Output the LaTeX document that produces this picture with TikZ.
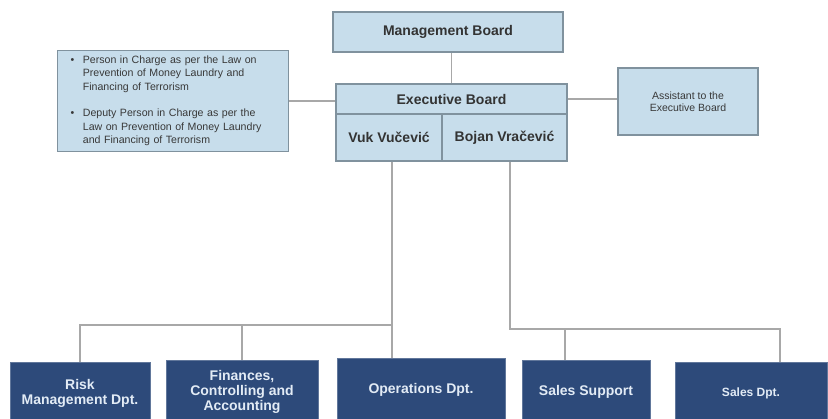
\documentclass[tikz,border=0pt]{standalone}
\usepackage{fontspec}
\setmainfont{Liberation Sans}

\definecolor{boardfill}{RGB}{199,221,235}
\definecolor{boardline}{RGB}{128,146,158}
\definecolor{deptfill}{RGB}{45,74,122}
\definecolor{depttext}{RGB}{226,235,245}
\definecolor{linkgray}{RGB}{168,168,168}

\begin{document}
\begin{tikzpicture}[x=1pt, y=-1pt,
    board/.style={draw=boardline, line width=1.3pt, fill=boardfill, text=black!80,
      font=\fontsize{14}{16}\selectfont\bfseries},
    dept/.style={draw=deptfill!75!white, line width=1pt, fill=deptfill, text=depttext,
      anchor=north, minimum height=62pt, align=center,
      font=\fontsize{14}{15}\selectfont\bfseries},
    link/.style={draw=linkgray, line width=1.2pt}]
    \useasboundingbox (0,0) rectangle (828,419);

    % boards
    \node[board, minimum width=230pt, minimum height=40pt] (mgmt) at (448,32) {Management Board};
    \node[board, minimum width=231pt, minimum height=30pt] (exec) at (451.5,99) {Executive Board};
    \node[board, minimum width=106pt, minimum height=47pt] (vuk) at (389,137.5) {Vuk Vučević};
    \node[board, minimum width=125pt, minimum height=47pt] (bojan) at (504.5,137.5) {Bojan Vračević};

    \node[board, anchor=north west, inner xsep=13pt, text width=205pt, minimum height=100pt,
      align=left, font=\fontsize{10.6}{13.5}\selectfont, text=black!78] (aml) at (57,50)
      {\begin{tabular}{@{}l@{\hspace{8.5pt}}l@{}}
        \textbullet & Person in Charge as per the Law on\\
          & Prevention of Money Laundry and\\
          & Financing of Terrorism\\[13pt]
        \textbullet & Deputy Person in Charge as per the\\
          & Law on Prevention of Money Laundry\\
          & and Financing of Terrorism
      \end{tabular}};
    \node[board, minimum width=140pt, minimum height=67pt, align=center,
      font=\fontsize{10.5}{12}\selectfont, text=black!78] (asst) at (688,101.5)
      {Assistant to the\\Executive Board};

    % departments
    \node[dept, minimum width=140pt] (risk) at (80,362) {Risk\\Management Dpt.};
    \node[dept, minimum width=152pt] (fin) at (242,360) {Finances,\\Controlling and\\Accounting};
    \node[dept, minimum width=168pt] (ops) at (421,358) {Operations Dpt.};
    \node[dept, minimum width=128pt] (ssup) at (586,360) {Sales Support};
    \node[dept, minimum width=152pt, font=\fontsize{12}{14}\selectfont\bfseries] (sales) at (751,362) {Sales Dpt.};

    \draw[link] (exec.north) -- (exec.north |- mgmt.south);
    \draw[link] (aml.east) -- (aml.east -| exec.west);
    \draw[link] (exec.east) -- (exec.east -| asst.west);

    \coordinate (vjoin) at (392,325);
    \coordinate (bjoin) at (510,329);
    \coordinate (ssdrop) at (565,329);
    \coordinate (salesdrop) at (780,329);

    \draw[link] (vuk.south -| vjoin) -- (vjoin |- ops.north);
    \draw[link] (risk.north) |- (vjoin);
    \draw[link] (fin.north) -- (fin.north |- vjoin);
    \draw[link] (bojan.south -| bjoin) -- (bjoin) -- (salesdrop) -- (salesdrop |- sales.north);
    \draw[link] (ssdrop) -- (ssdrop |- ssup.north);
\end{tikzpicture}
\end{document}
